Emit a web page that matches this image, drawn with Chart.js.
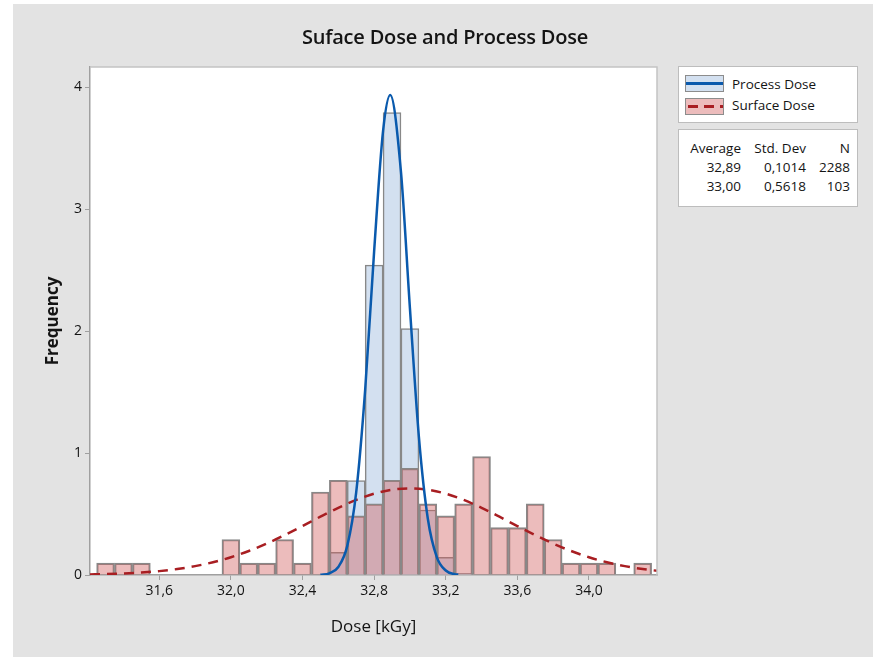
<!DOCTYPE html>
<html>
<head>
<meta charset="utf-8">
<script src="https://cdn.jsdelivr.net/npm/chart.js@4.4.1/dist/chart.umd.min.js"></script>
<style>
  html, body { margin: 0; padding: 0; background: #fff; }
  #frame { position: absolute; left: 13px; top: 4px; width: 860px; height: 653px; background: #e3e3e3; }
  #wrap { position: absolute; left: 0; top: 0; width: 873px; height: 657px; }
  .t { position: absolute; font-family: "Open Sans", "Noto Sans", sans-serif; color: #141414; white-space: nowrap; }
  #title { left: 0; width: 890px; top: 23px; text-align: center; font-size: 20px; font-weight: 600; letter-spacing: -0.2px; }
  .box { position: absolute; left: 678px; width: 180px; background: #fff; border: 1px solid #bdbdbd; box-sizing: border-box; }
  #legend { top: 66px; height: 57px; }
  #stats { top: 129px; height: 78px; }
  .sw { position: absolute; left: 6px; width: 39px; height: 17px; box-sizing: border-box; border: 1px solid #8c8c8c; }
  .lbl { font-size: 13.5px; }
  .num { font-size: 13.5px; text-align: right; }
</style>
</head>
<body>
<div id="frame"></div>
<div id="wrap"><canvas id="c" width="873" height="657"></canvas></div>
<div class="t" id="title">Suface Dose and Process Dose</div>
<div class="box" id="legend">
  <div class="sw" style="top:8px;background:rgb(211,224,240);">
    <div style="position:absolute;left:0;right:0;top:6px;height:2.5px;background:#0a5aad;"></div>
  </div>
  <div class="t lbl" style="left:53px;top:8px;">Process Dose</div>
  <div class="sw" style="top:31px;background:rgb(236,188,188);">
    <div style="position:absolute;left:2px;right:0;top:6px;height:2.5px;background:repeating-linear-gradient(90deg,#a81e22 0 10px,transparent 10px 16px);"></div>
  </div>
  <div class="t lbl" style="left:53px;top:29px;">Surface Dose</div>
</div>
<div class="box" id="stats"></div>
<script>
// histogram bins (kGy), width 0.1
const binCenters = [31.3, 31.4, 31.5, 31.6, 31.7, 31.8, 31.9, 32.0, 32.1, 32.2, 32.3, 32.4, 32.5, 32.6, 32.7,
  32.8, 32.9, 33.0, 33.1, 33.2, 33.3, 33.4, 33.5, 33.6, 33.7, 33.8, 33.9, 34.0, 34.1, 34.2, 34.3];
const surfaceDensity = [0.097, 0.097, 0.097, 0, 0, 0, 0, 0.291, 0.097, 0.097, 0.291, 0.097, 0.680, 0.777, 0.485,
  0.583, 0.777, 0.874, 0.583, 0.485, 0.583, 0.971, 0.388, 0.388, 0.583, 0.291, 0.097, 0.097, 0.097, 0, 0.097];
const processDensity = [0, 0, 0, 0, 0, 0, 0, 0, 0, 0, 0, 0, 0, 0.186, 0.773,
  2.54, 3.79, 2.02, 0.533, 0.145, 0.013, 0, 0, 0, 0, 0, 0, 0, 0, 0, 0];

// fitted normal curves
const processCurveX = [32.50, 32.55, 32.60, 32.65, 32.70, 32.75, 32.80, 32.85, 32.89, 32.95, 33.00, 33.05, 33.10, 33.15, 33.20, 33.25, 33.27];
const processCurveY = [0.002, 0.014, 0.066, 0.239, 0.680, 1.517, 2.653, 3.640, 3.934, 3.302, 2.185, 1.133, 0.461, 0.147, 0.037, 0.007, 0.003];
const surfaceCurveX = [31.213, 31.3, 31.4, 31.5, 31.6, 31.7, 31.8, 31.9, 32.0, 32.1, 32.2, 32.3, 32.4, 32.5, 32.6, 32.7, 32.8, 32.9,
  33.0, 33.1, 33.2, 33.3, 33.4, 33.5, 33.6, 33.7, 33.8, 33.9, 34.0, 34.1, 34.2, 34.3, 34.38];
const surfaceCurveY = [0.0045, 0.0073, 0.0123, 0.0201, 0.0318, 0.0488, 0.0726, 0.1044, 0.1456, 0.1968, 0.2576, 0.3267, 0.4015, 0.4778, 0.5510, 0.6156, 0.6664, 0.6989,
  0.710, 0.6989, 0.6664, 0.6156, 0.5510, 0.4778, 0.4015, 0.3267, 0.2576, 0.1968, 0.1456, 0.1044, 0.0726, 0.0488, 0.0347];

const xTicks = [31.6, 32.0, 32.4, 32.8, 33.2, 33.6, 34.0];
const yTicks = [0, 1, 2, 3, 4];

const statHeaders = ['Average', 'Std. Dev', 'N'];
const statRows = [['32,89', '0,1014', '2288'], ['33,00', '0,5618', '103']];

// stats table, right-aligned columns
const colRight = [62, 127, 171];
const rowTop = [9, 28, 47];
const stats = document.getElementById('stats');
[statHeaders].concat(statRows).forEach((row, r) => {
  row.forEach((txt, c) => {
    const d = document.createElement('div');
    d.className = 't num';
    d.style.right = (178 - colRight[c]) + 'px';
    d.style.top = rowTop[r] + 'px';
    d.textContent = txt;
    stats.appendChild(d);
  });
});

function pts(xs, ys) {
  return xs.map((x, i) => ({ x: x, y: ys[i] })).filter(p => p.y > 0);
}

const plotBg = {
  id: 'plotBg',
  beforeDraw(chart) {
    const a = chart.chartArea, ctx = chart.ctx;
    ctx.save();
    ctx.fillStyle = '#ffffff';
    ctx.fillRect(a.left, a.top, a.right - a.left, a.bottom - a.top);
    ctx.restore();
  },
  afterDraw(chart) {
    const a = chart.chartArea, ctx = chart.ctx;
    ctx.save();
    ctx.strokeStyle = '#c4c4c4';
    ctx.lineWidth = 1.5;
    ctx.beginPath();
    ctx.moveTo(a.left, a.top);
    ctx.lineTo(a.right, a.top);
    ctx.lineTo(a.right, a.bottom);
    ctx.stroke();
    ctx.restore();
  }
};

const fmt = v => Number(v).toFixed(1).replace('.', ',');

new Chart(document.getElementById('c'), {
  type: 'bar',
  data: {
    datasets: [
      {
        type: 'line', label: 'Process Dose fit', data: pts(processCurveX, processCurveY),
        borderColor: '#0a5aad', borderWidth: 2.5, pointRadius: 0, cubicInterpolationMode: 'monotone', order: 0
      },
      {
        type: 'line', label: 'Surface Dose fit', data: pts(surfaceCurveX, surfaceCurveY),
        borderColor: '#a81e22', borderWidth: 2.5, borderDash: [10, 7], pointRadius: 0, cubicInterpolationMode: 'monotone', order: 1
      },
      {
        label: 'Surface Dose', data: pts(binCenters, surfaceDensity),
        backgroundColor: 'rgba(209,92,92,0.41)', borderColor: '#888888', borderWidth: 1.5,
        barPercentage: 1, categoryPercentage: 1, grouped: false, order: 2
      },
      {
        label: 'Process Dose', data: pts(binCenters, processDensity),
        backgroundColor: 'rgb(211,224,240)', borderColor: '#888888', borderWidth: 1.5,
        barPercentage: 1, categoryPercentage: 1, grouped: false, order: 3
      }
    ]
  },
  options: {
    responsive: false,
    animation: false,
    layout: { padding: { left: 30, top: 67, right: 216, bottom: 12 } },
    plugins: { legend: { display: false }, tooltip: { enabled: false } },
    scales: {
      x: {
        type: 'linear', min: 31.213, max: 34.38, offset: false,
        afterFit(s) { s.height = 70; },
        afterBuildTicks(s) { s.ticks = xTicks.map(v => ({ value: v })); },
        grid: { drawOnChartArea: false, tickLength: 5, color: '#a0a0a0', offset: false },
        border: { color: '#a0a0a0', width: 1.5 },
        ticks: { callback: fmt, color: '#141414', padding: 3, font: { family: 'Open Sans', size: 14 }, maxRotation: 0 },
        title: { display: true, text: 'Dose [kGy]', color: '#141414', font: { family: 'Open Sans', size: 17 }, padding: { bottom: 8 } }
      },
      y: {
        min: 0, max: 4.164,
        afterFit(s) { s.width = 60; },
        afterBuildTicks(s) { s.ticks = yTicks.map(v => ({ value: v })); },
        grid: { drawOnChartArea: false, tickLength: 5, color: '#a0a0a0' },
        border: { color: '#a0a0a0', width: 1.5 },
        ticks: { color: '#141414', padding: 3, font: { family: 'Open Sans', size: 14 } },
        title: { display: true, text: 'Frequency', color: '#141414', font: { family: 'Open Sans', size: 17, weight: 'bold' }, padding: { top: 13 } }
      }
    }
  },
  plugins: [plotBg]
});
</script>
</body>
</html>
